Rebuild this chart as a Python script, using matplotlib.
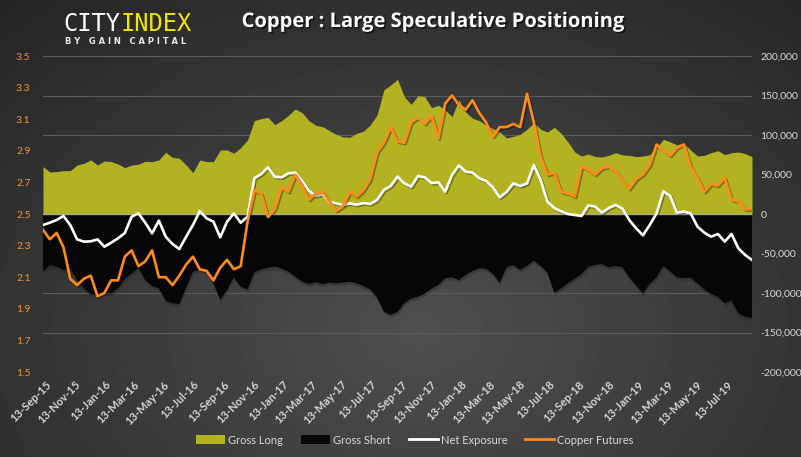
import numpy as np
import pandas as pd
import matplotlib
matplotlib.use("Agg")
import matplotlib.pyplot as plt
import matplotlib.patheffects as pe
from matplotlib.patches import Patch
from matplotlib.lines import Line2D
from matplotlib.ticker import FuncFormatter

plt.rcParams["font.family"] = ["Lato", "DejaVu Sans"]

# fortnightly COT readings, 8-Sep-15 .. 3-Sep-19
dates = pd.date_range("2015-09-08", periods=105, freq="14D")

gross_long = [
    59900, 53200, 53600, 54900, 54900, 62000, 64100, 68400, 62000, 67100,
    66300, 63300, 58700, 62000, 62900, 66700, 66300, 68400, 78100, 71700,
    70500, 62000, 52300, 68400, 66300, 66300,
    81000, 81000, 76800, 84000,
    93700, 118200, 120700, 122400, 113100, 118200, 124900, 132900, 128300, 118200,
    112300, 110600, 105500, 100900, 97500, 97100, 102100, 104700, 112700, 125300,
    157000, 163300,
    170500, 148500, 138800, 149800, 148500, 134600, 137600, 131700,
    123200, 144300, 129100, 121100, 118200, 112300, 108000, 103800, 96200, 98300,
    100900, 107200, 115600, 107200, 103800, 109700, 102100, 91200,
    78500, 73400,
    76000, 72600, 72200, 74300, 77600, 74700, 74300, 72600, 73400, 75100,
    84000, 94500, 91200, 87400, 89500, 81000, 73400, 74300, 77600, 80200,
    75100, 77600, 78500, 76400, 72600,
]

gross_short = [
    -73000, -64600, -66700, -70900, -68800, -83600, -94100, -101300, -102500, -99600,
    -100400, -94100, -82300, -75100, -68400, -83600, -91200, -94100, -109700, -113100,
    -113900, -92800, -73000, -70900, -73000, -87800,
    -108900, -96200, -80200, -92000,
    -95400, -73900, -70100, -67900, -66700, -68800, -73000, -79300, -85700, -88500,
    -86500, -89000, -87000, -87800, -86900, -85700, -87800, -91200, -95400, -105500,
    -123600, -127900,
    -124100, -113100, -107200, -104700, -100900, -94500, -89900, -81400,
    -80200, -83600, -77200, -72200, -68800, -69200, -76000, -86900, -67500, -64600,
    -70900, -65800, -59100, -65800, -74300, -99600, -94100, -87800,
    -81900, -76000,
    -66700, -64600, -63300, -67500, -65800, -67500, -80200, -90300, -100400, -88600,
    -80200, -65800, -72600, -80200, -81000, -80600, -87800, -95400, -101300, -104700,
    -113100, -109700, -125800, -130000, -132100,
]

net_exposure = [
    -13900, -11000, -7600, -2500, -13900, -32100, -35000, -34600, -32100, -41400,
    -36300, -30800, -24100, -3400, 800, -11000, -24500, -8400, -28700, -38000,
    -44300, -28700, -13900, 3800, -5500, -9700,
    -29500, -9700, 800, -11000,
    -3400, 45200, 50600, 59100, 47300, 46400, 51500, 52300, 42200, 29500,
    22800, 25300, 15600, 13500, 11400, 13500, 11800, 13900, 12700, 17700,
    30400, 35400,
    47300, 38800, 34600, 48100, 46400, 39200, 40100, 28300,
    49400, 61600, 53600, 52300, 45200, 41800, 33800, 21100, 27900, 38800,
    35400, 38800, 62000, 43000, 15600, 7600, 3400, 0,
    -1300, -2500,
    11000, 9300, 1700, 7600, 11400, 6800, -7600, -18100, -27000, -13900,
    800, 28700, 22800, 1700, 3000, 800, -16000, -23600, -28700, -25300,
    -35000, -25300, -43500, -51900, -58200,
]

copper = [
    2.40, 2.34, 2.38, 2.29, 2.09, 2.05, 2.09, 2.11, 1.98, 2.00,
    2.08, 2.08, 2.23, 2.27, 2.17, 2.20, 2.27, 2.10, 2.10, 2.05,
    2.11, 2.18, 2.23, 2.15, 2.14, 2.08,
    2.16, 2.21, 2.15, 2.17,
    2.45, 2.65, 2.63, 2.48, 2.53, 2.67, 2.64, 2.75, 2.68, 2.59,
    2.63, 2.64, 2.58, 2.52, 2.55, 2.64, 2.61, 2.65, 2.72, 2.89,
    2.95, 3.05,
    2.96, 2.95, 3.08, 3.11, 3.07, 3.12, 2.98, 3.20,
    3.25, 3.19, 3.16, 3.22, 3.14, 3.08, 2.99, 3.05, 3.05, 3.07,
    3.05, 3.26, 3.08, 2.86, 2.75, 2.76, 2.64, 2.63,
    2.61, 2.80,
    2.78, 2.75, 2.79, 2.80, 2.77, 2.71, 2.66, 2.72, 2.75, 2.81,
    2.94, 2.90, 2.87, 2.92, 2.94, 2.80, 2.73, 2.64, 2.69, 2.68,
    2.73, 2.59, 2.58, 2.53, 2.53,
]

tick_dates = [pd.Timestamp("2015-09-13") + pd.DateOffset(months=2 * i) for i in range(24)]

YELLOW = "#b3b322"
ORANGE = "#ff8c1a"
GRID = "#5c5c5c"

fig = plt.figure(figsize=(8.01, 4.57), dpi=100)

# dark radial background
bg = fig.add_axes([0, 0, 1, 1], zorder=-10)
yy, xx = np.mgrid[0:457, 0:801]
r = np.sqrt(((xx - 420) / 520.0) ** 2 + ((yy - 330) / 380.0) ** 2)
shade = np.clip(0.31 - 0.14 * r, 0.13, 0.32)
bg.imshow(shade, cmap="gray", vmin=0, vmax=1, aspect="auto", interpolation="bilinear")
bg.axis("off")

ax = fig.add_axes([43 / 801, 1 - 372 / 457, 709 / 801, 316 / 457])
ax.patch.set_visible(False)

ax.fill_between(dates, 0, gross_long, color=YELLOW, lw=0, zorder=2)
ax.fill_between(dates, gross_short, 0, color="#060606", lw=0, zorder=2,
                path_effects=[pe.SimplePatchShadow(offset=(0.5, -2), shadow_rgbFace="#202020", alpha=0.35),
                              pe.Normal()])
ax.axhline(0, color="#a8a8a8", lw=1.0, zorder=3)
ax.plot(dates, net_exposure, color="white", lw=1.9, zorder=4,
        path_effects=[pe.SimpleLineShadow(offset=(1, -1), alpha=0.35), pe.Normal()])

ax.set_ylim(-200000, 200000)
ax.set_yticks(np.arange(-200000, 200001, 50000))
ax.yaxis.grid(True, color=GRID, lw=0.8)
ax.set_axisbelow(True)
ax.set_xlim(dates[0], dates[-1])
for s in ax.spines.values():
    s.set_visible(False)

ax2 = ax.twinx()
ax2.plot(dates, copper, color=ORANGE, lw=1.9, zorder=5,
         path_effects=[pe.SimpleLineShadow(offset=(1, -1), alpha=0.35), pe.Normal()])
ax2.set_ylim(1.5, 3.5)
ax2.set_yticks(np.arange(1.5, 3.51, 0.2))
ax2.yaxis.set_major_formatter(FuncFormatter(lambda v, p: f"{v:.1f}"))
for s in ax2.spines.values():
    s.set_visible(False)

ax2.yaxis.set_ticks_position("left")
ax2.tick_params(axis="y", length=0, pad=9, labelcolor="#f0922e", labelsize=7.5)
ax.yaxis.set_ticks_position("right")
ax.yaxis.set_major_formatter(FuncFormatter(lambda v, p: f"{v:,.0f}"))
ax.tick_params(axis="y", length=0, pad=6, labelcolor="#d8d8d8", labelsize=7.5)

ax.set_xticks(tick_dates)
ax.set_xticklabels([d.strftime("%d-%b-%y") for d in tick_dates], rotation=45, ha="right",
                   rotation_mode="anchor", fontsize=8, fontweight="bold", color="#d4d4d4")
ax.tick_params(axis="x", length=0, pad=5)
ax2.xaxis.set_visible(False)

# logo
fig.text(63 / 801, 1 - 31 / 457, "CITY", family="DejaVu Sans Mono", fontsize=17, color="white", va="baseline")
fig.text(121 / 801, 1 - 31 / 457, "INDEX", family="DejaVu Sans Mono", fontsize=17, color="#f2e600", va="baseline")
fig.text(65 / 801, 1 - 44 / 457, "B Y   G A I N   C A P I T A L", family="DejaVu Sans", fontsize=6,
         fontweight="bold", color="#e8e8e8", va="baseline")

fig.text(433 / 801, 1 - 22 / 457, "Copper : Large Speculative Positioning", family="Open Sans",
         fontsize=14.5, fontweight="bold", color="white", ha="center", va="center",
         path_effects=[pe.withSimplePatchShadow(offset=(1.2, -1.2), shadow_rgbFace="black", alpha=0.6)])

handles = [
    Patch(facecolor=YELLOW, edgecolor="none", label="Gross Long"),
    Patch(facecolor="#060606", edgecolor="none", label="Gross Short"),
    Line2D([], [], color="white", lw=2, label="Net Exposure"),
    Line2D([], [], color=ORANGE, lw=2, label="Copper Futures"),
]
leg = fig.legend(handles=handles, loc="center", bbox_to_anchor=(415 / 801, 1 - 440 / 457), ncol=4,
                 frameon=False, handlelength=2.6, handleheight=0.8, columnspacing=1.6,
                 handletextpad=0.3, prop={"family": "Lato", "size": 8})
for t in leg.get_texts():
    t.set_color("#d8d8d8")

fig.savefig("out.png", dpi=100)
